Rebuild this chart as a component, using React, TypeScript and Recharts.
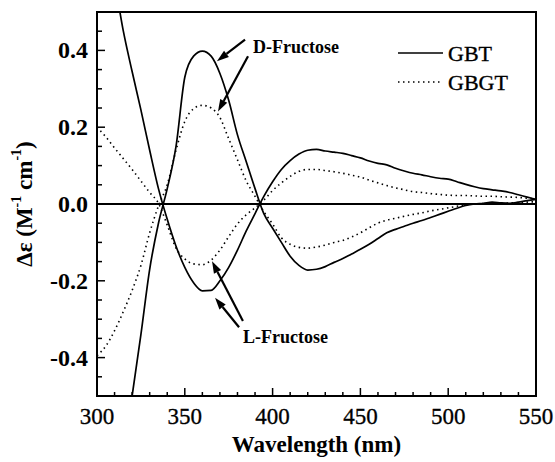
import { LineChart, Line, XAxis, YAxis, ReferenceLine, ReferenceArea, ReferenceDot } from 'recharts';

document.body.style.margin = '0';

const FONT = '"Liberation Serif", "Times New Roman", serif';

// wavelength grid (nm)
const WAVELENGTH = [
  300, 305, 310, 315, 320, 325, 330, 335, 340, 345, 350, 355, 360, 365, 370, 375, 380, 385, 390, 395,
  400, 405, 410, 415, 420, 425, 430, 435, 440, 445, 450, 455, 460, 465, 470, 475, 480, 485, 490, 495,
  500, 505, 510, 515, 520, 525, 530, 535, 540, 545, 550,
];

// Δε values, M^-1 cm^-1
const D_GBT = [
  -1.1, -0.95, -0.8, -0.65, -0.5, -0.34, -0.17, -0.05, 0.04, 0.15, 0.33, 0.385, 0.398, 0.385, 0.34, 0.27, 0.18, 0.11, 0.04, -0.025,
  -0.063, -0.1, -0.136, -0.16, -0.172, -0.17, -0.163, -0.152, -0.142, -0.13, -0.118, -0.105, -0.09, -0.075, -0.066, -0.058, -0.05, -0.043, -0.035, -0.027,
  -0.019, -0.011, -0.004, 0.0, 0.002, 0.005, 0.003, 0.002, 0.005, 0.009, 0.012,
];
const D_GBGT = [
  -0.395, -0.37, -0.33, -0.28, -0.225, -0.16, -0.075, -0.005, 0.05, 0.14, 0.215, 0.248, 0.257, 0.25, 0.225, 0.17, 0.115, 0.06, 0.02, -0.02,
  -0.052, -0.088, -0.105, -0.113, -0.115, -0.112, -0.107, -0.1, -0.095, -0.086, -0.075, -0.062, -0.05, -0.042, -0.037, -0.032, -0.027, -0.023, -0.018, -0.014,
  -0.01, -0.006, -0.002, 0.0, 0.001, 0.002, 0.002, 0.003, 0.004, 0.005, 0.006,
];
const L_GBT = [
  0.8, 0.69, 0.58, 0.45, 0.345, 0.245, 0.14, 0.04, -0.04, -0.11, -0.165, -0.205, -0.226, -0.225, -0.2, -0.165, -0.12, -0.07, -0.025, 0.02,
  0.058, 0.09, 0.113, 0.13, 0.14, 0.142, 0.138, 0.135, 0.132, 0.126, 0.12, 0.112, 0.106, 0.102, 0.093, 0.086, 0.08, 0.076, 0.071, 0.067,
  0.065, 0.058, 0.051, 0.045, 0.04, 0.037, 0.034, 0.03, 0.024, 0.018, 0.012,
];
const L_GBGT = [
  0.2, 0.175, 0.146, 0.118, 0.09, 0.06, 0.03, 0.002, -0.055, -0.115, -0.143, -0.156, -0.158, -0.146, -0.12, -0.085, -0.052, -0.028, -0.01, 0.01,
  0.035, 0.055, 0.072, 0.085, 0.09, 0.09, 0.087, 0.084, 0.08, 0.075, 0.07, 0.062, 0.055, 0.048, 0.042, 0.037, 0.032, 0.03, 0.027, 0.025,
  0.023, 0.022, 0.022, 0.021, 0.02, 0.02, 0.019, 0.018, 0.017, 0.015, 0.013,
];

const X_TICKS = [300, 310, 320, 330, 340, 350, 360, 370, 380, 390, 400, 410, 420, 430, 440, 450, 460, 470, 480, 490, 500, 510, 520, 530, 540, 550];
const Y_TICKS = [-0.5, -0.45, -0.4, -0.35, -0.3, -0.25, -0.2, -0.15, -0.1, -0.05, 0, 0.05, 0.1, 0.15, 0.2, 0.25, 0.3, 0.35, 0.4, 0.45, 0.5];

// annotation arrows: tail -> head, in data units
const D_ARROWS = [
  [[384.3, 0.428], [368.3, 0.372]],
  [[386, 0.385], [368.9, 0.241]],
];
const L_ARROWS = [
  [[383.1, -0.305], [365.5, -0.149]],
  [[380.9, -0.321], [367.2, -0.244]],
];
const D_LABEL = [388.8, 0.408];
const L_LABEL = [383.1, -0.346];

const data = WAVELENGTH.map((w, i) => ({
  w,
  dGbt: D_GBT[i],
  dGbgt: D_GBGT[i],
  lGbt: L_GBT[i],
  lGbgt: L_GBGT[i],
}));

const BottomTick = (props: any) => {
  const { x, y, payload } = props;
  const major = payload.value % 50 === 0;
  return (
    <g>
      <line x1={x} y1={y} x2={x} y2={y - (major ? 8 : 4)} stroke="#000" strokeWidth={1.5} />
      {major && (
        <text x={x} y={y + 20} textAnchor="middle" dominantBaseline="central" fontFamily={FONT} fontSize={23} fill="#000" stroke="#000" strokeWidth={0.3}>
          {payload.value}
        </text>
      )}
    </g>
  );
};

const TopTick = (props: any) => {
  const { x, y } = props;
  return <line x1={x} y1={y} x2={x} y2={y + 3} stroke="#000" strokeWidth={1.2} />;
};

const LeftTick = (props: any) => {
  const { x, y, payload } = props;
  const k = Math.round(payload.value * 20);
  const major = k % 4 === 0;
  return (
    <g>
      <line x1={x} y1={y} x2={x + (major ? 8 : 5)} y2={y} stroke="#000" strokeWidth={1.5} />
      {major && (
        <text x={x - 9} y={y} textAnchor="end" dominantBaseline="central" fontFamily={FONT} fontSize={24} fontWeight="bold" fill="#000">
          {payload.value.toFixed(1)}
        </text>
      )}
    </g>
  );
};

const Arrow = (props: any) => {
  const { x1, y1, x2, y2 } = props;
  const a = Math.atan2(y2 - y1, x2 - x1);
  const len = 12;
  const half = 4;
  const bx = x2 - len * Math.cos(a);
  const by = y2 - len * Math.sin(a);
  const px = -Math.sin(a) * half;
  const py = Math.cos(a) * half;
  return (
    <g>
      <line x1={x1} y1={y1} x2={bx} y2={by} stroke="#000" strokeWidth={2.2} />
      <polygon points={`${x2},${y2} ${bx + px},${by + py} ${bx - px},${by - py}`} fill="#000" />
    </g>
  );
};

const annText = (label: string) => (p: any) => (
  <text x={p.cx} y={p.cy} dominantBaseline="central" fontFamily={FONT} fontSize={18} fontWeight="bold" fill="#000">
    {label}
  </text>
);

const YTitle = (props: any) => {
  const { viewBox } = props;
  const cx = 24;
  const cy = viewBox.y + viewBox.height / 2;
  return (
    <text
      x={cx}
      y={cy}
      transform={`rotate(-90, ${cx}, ${cy})`}
      textAnchor="middle"
      dominantBaseline="central"
      fontFamily={FONT}
      fontSize={23}
      fontWeight="bold"
      fill="#000"
    >
      Δε (M<tspan dy={-8} fontSize={14}>-1</tspan>
      <tspan dy={8}> cm</tspan>
      <tspan dy={-8} fontSize={14}>-1</tspan>
      <tspan dy={8}>)</tspan>
    </text>
  );
};

const XTitle = (props: any) => {
  const { viewBox } = props;
  return (
    <text
      x={viewBox.x + viewBox.width / 2}
      y={viewBox.y + 48}
      textAnchor="middle"
      dominantBaseline="central"
      fontFamily={FONT}
      fontSize={23}
      fontWeight="bold"
      fill="#000"
    >
      Wavelength (nm)
    </text>
  );
};

function LegendBox() {
  const t = { fontFamily: FONT, fontSize: 22, fill: '#000', stroke: '#000', strokeWidth: 0.35 };
  return (
    <svg width={150} height={64} style={{ position: 'absolute', left: 395, top: 38 }}>
      <line x1={3} y1={15} x2={48} y2={15} stroke="#000" strokeWidth={1.6} />
      <text x={53} y={15} dominantBaseline="central" {...t}>GBT</text>
      <line x1={3} y1={44} x2={48} y2={44} stroke="#000" strokeWidth={1.5} strokeDasharray="1.5 3.5" />
      <text x={53} y={44} dominantBaseline="central" {...t}>GBGT</text>
    </svg>
  );
}

export default function App() {
  return (
    <div style={{ position: 'relative', width: 555, height: 462, background: '#fff' }}>
      <LineChart width={555} height={462} data={data} margin={{ top: 12, right: 19, bottom: 0, left: 0 }}>
        <XAxis
          dataKey="w"
          type="number"
          domain={[300, 550]}
          ticks={X_TICKS}
          interval={0}
          tickSize={0}
          tickMargin={0}
          tickLine={false}
          tick={(p: any) => <BottomTick {...p} />}
          height={66}
          axisLine={{ stroke: '#000', strokeWidth: 2 }}
          allowDataOverflow
          label={{ content: XTitle }}
        />
        <XAxis
          xAxisId="top"
          orientation="top"
          dataKey="w"
          type="number"
          domain={[300, 550]}
          ticks={X_TICKS}
          interval={0}
          tickSize={0}
          tickMargin={0}
          tickLine={false}
          tick={(p: any) => <TopTick {...p} />}
          height={0}
          axisLine={{ stroke: '#000', strokeWidth: 2 }}
          allowDataOverflow
        />
        <YAxis
          type="number"
          domain={[-0.5, 0.5]}
          ticks={Y_TICKS}
          interval={0}
          tickSize={0}
          tickMargin={0}
          tickLine={false}
          tick={(p: any) => <LeftTick {...p} />}
          width={97}
          axisLine={{ stroke: '#000', strokeWidth: 2 }}
          allowDataOverflow
          label={{ content: YTitle }}
        />
        <ReferenceArea x1={300} x2={550} y1={-0.5} y2={0.5} fill="none" stroke="#000" strokeWidth={2} ifOverflow="visible" />
        <ReferenceLine y={0} stroke="#000" strokeWidth={1.8} />
        <Line type="monotone" dataKey="dGbt" stroke="#000" strokeWidth={1.7} dot={false} isAnimationActive={false} />
        <Line type="monotone" dataKey="lGbt" stroke="#000" strokeWidth={1.7} dot={false} isAnimationActive={false} />
        <Line type="monotone" dataKey="dGbgt" stroke="#000" strokeWidth={1.6} strokeDasharray="1.5 3.5" dot={false} isAnimationActive={false} />
        <Line type="monotone" dataKey="lGbgt" stroke="#000" strokeWidth={1.6} strokeDasharray="1.5 3.5" dot={false} isAnimationActive={false} />
        {[...D_ARROWS, ...L_ARROWS].map((a, i) => (
          <ReferenceLine
            key={`arrow-${i}`}
            segment={[{ x: a[0][0], y: a[0][1] }, { x: a[1][0], y: a[1][1] }]}
            ifOverflow="visible"
            shape={Arrow}
          />
        ))}
        <ReferenceDot x={D_LABEL[0]} y={D_LABEL[1]} r={0} ifOverflow="visible" shape={annText('D-Fructose')} />
        <ReferenceDot x={L_LABEL[0]} y={L_LABEL[1]} r={0} ifOverflow="visible" shape={annText('L-Fructose')} />
      </LineChart>
      <LegendBox />
    </div>
  );
}
